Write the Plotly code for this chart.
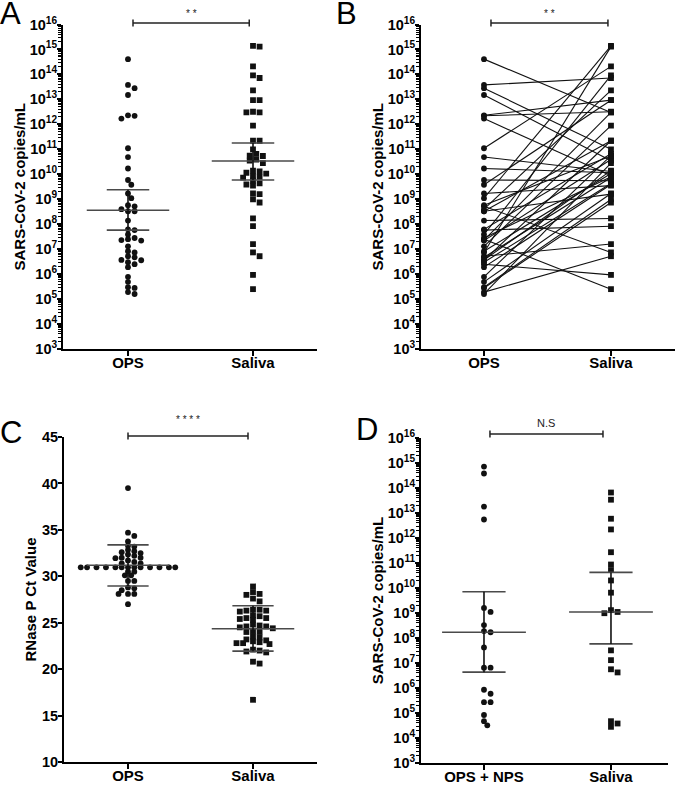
import math
import plotly.graph_objects as go

W, H = 675, 786
FONT = "Liberation Sans, Arial, sans-serif"

# ---------------- Data ----------------
# Panels A / B : SARS-CoV-2 copies/mL, OPS and saliva paired by patient
ops_copies = [4.1e14, 3.8e13, 2.8e13, 1.5e13, 2.3e12, 2.2e12, 1.7e12, 1.1e11, 4.9e10, 1.7e10,
              5.9e9, 3.8e9, 1.7e9, 1.1e9, 5.8e8, 5.2e8, 4.0e8, 3.3e8, 3.3e8, 1.4e8,
              6.2e7, 5.8e7, 3.9e7, 2.8e7, 2.5e7, 2.3e7, 2.2e7, 1.3e7, 8.3e6, 7.4e6,
              5.2e6, 4.7e6, 3.7e6, 3.6e6, 3.0e6, 2.5e6, 1.9e6, 7.8e5, 4.9e5, 3.0e5,
              2.8e5, 1.9e5, 1.6e5]
saliva_copies = [3.0e12, 7.2e13, 1.0e11, 3.5e10, 9.3e12, 3.2e12, 8.7e9, 2.1e14, 1.3e10, 1.15e10,
                 5.5e9, 9.3e12, 3.5e9, 1.4e15, 5.4e10, 7.4e6, 2.3e13, 1.6e9, 2.2e11, 1.7e8,
                 6.6e10, 8.3e7, 9.1e13, 7.9e9, 2.5e5, 3.0e12, 3.9e10, 8.9e11, 1.07e10, 1.3e15,
                 1.6e7, 7.4e9, 1.4e10, 2.2e11, 4.3e9, 9.3e5, 3.9e9, 5.6e10, 1.7e9, 9.8e8,
                 7.4e8, 5.2e6, 2.8e10]
# geometric mean with 95% CI : (centre, upper, lower)
ops_stats_A = (3.6e8, 2.4e9, 5.8e7)
saliva_stats_A = (3.4e10, 1.8e11, 5.9e9)

# Panel C : RNase P Ct values
ops_ct = [39.5, 34.7, 34.35, 33.75, 33.3, 33.2, 32.85, 32.7, 32.6, 32.5, 32.35, 32.2,
          32.0, 32.0, 31.95, 31.7, 31.55, 31.4, 31.4,
          30.97, 30.97, 30.97, 30.97, 30.97, 30.97, 30.97, 30.97, 30.97, 30.97, 30.97, 30.97, 30.97,
          30.5, 30.5, 30.1, 30.1, 29.5, 29.5, 28.8, 28.7, 28.5, 28.1, 28.1, 28.1, 27.0]
saliva_ct = [28.9, 28.0, 28.3, 28.1, 27.6, 27.3, 26.4, 26.2, 26.3, 26.4, 26.3, 25.8, 25.7,
             25.5, 25.3, 25.4, 25.5, 24.8, 24.6, 24.5, 24.4, 24.6, 24.7, 24.0, 24.0, 24.1,
             23.5, 23.4, 23.1, 22.9, 22.8, 22.7, 22.8, 23.0, 23.2, 22.0, 21.8, 21.9, 22.1,
             20.8, 20.6, 16.7]
ops_stats_C = (31.19, 33.38, 28.96)      # mean, +SD, -SD
saliva_stats_C = (24.35, 26.83, 21.94)

# Panel D : OPS + NPS vs saliva (copies/mL)
opsnps_copies = [7.2e14, 3.8e14, 1.8e13, 5.5e12, 1.6e9, 1.1e9, 3.3e8, 1.7e8, 1.9e8, 4.2e7,
                 6.5e6, 6.5e6, 8.5e5, 5.9e5, 2.7e5, 2.7e5, 8.3e4, 3.2e4, 4.7e4]
salivaD_copies = [6.6e13, 3.4e13, 5.9e12, 2.2e12, 2.7e11, 8.7e10, 5.2e10, 2.0e10, 6.5e9, 1.3e9,
                  9.8e8, 1.1e9, 3.2e7, 1.3e7, 5.6e6, 4.2e6, 4.7e4, 2.8e4, 3.8e4]
opsnps_stats = (1.7e8, 7.1e9, 4.3e6)
salivaD_stats = (1.1e9, 4.2e10, 5.8e7)

cats_AB = ["OPS", "Saliva"]
cats_D = ["OPS + NPS", "Saliva"]
log_exponents = list(range(3, 17))
log_tickvals = [10 ** k for k in log_exponents]
log_ticktext = [f"10<sup>{k}</sup>" for k in log_exponents]
log_minorvals = [m * 10 ** k for k in range(3, 16) for m in range(2, 10)]
ct_ticks = [10, 15, 20, 25, 30, 35, 40, 45]

# ---------------- Geometry (pixels) ----------------
PANELS = {
    "A": dict(x0=63, x1=317, ytop=24.5, ybot=349, xr=[-0.52, 1.512]),
    "B": dict(x0=421, x1=675, ytop=24.5, ybot=349, xr=[-0.496, 1.504]),
    "C": dict(x0=64, x1=317, ytop=437, ybot=762, xr=[-0.512, 1.512]),
    "D": dict(x0=421, x1=668, ytop=438, ybot=763, xr=[-0.496, 1.449]),
}


def xdom(p):
    return [p["x0"] / W, p["x1"] / W]


def ydom(p):
    return [1 - p["ybot"] / H, 1 - p["ytop"] / H]


def swarm(values, p, yspan, log, dx=6.6, dy=4.8):
    """Greedy beeswarm: returns x offsets (in category units)."""
    px_x = (p["x1"] - p["x0"]) / (p["xr"][1] - p["xr"][0])
    px_y = (p["ybot"] - p["ytop"]) / yspan
    ys = [(math.log10(v) if log else v) * px_y for v in values]
    order = sorted(range(len(values)), key=lambda i: -ys[i])
    step = dx / 2
    cands = [0.0]
    for j in range(1, 40):
        cands += [step * j, -step * j]
    placed = []
    offs = [0.0] * len(values)
    for i in order:
        for c in cands:
            if all(((c - qx) / dx) ** 2 + ((ys[i] - qy) / dy) ** 2 >= 1 for qx, qy in placed):
                break
        placed.append((c, ys[i]))
        offs[i] = c / px_x
    return offs


fig = go.Figure()


def add_points(xa, ya, center, values, p, yspan, log, symbol, dx=6.6, dy=4.8):
    offs = swarm(values, p, yspan, log, dx, dy)
    fig.add_trace(go.Scatter(
        x=[center + o for o in offs], y=values, mode="markers", xaxis=xa, yaxis=ya,
        marker=dict(symbol=symbol, size=5.8, color="#111111", line=dict(width=0)),
        showlegend=False, hoverinfo="skip"))


def add_stats(xa, ya, center, stats, half_mean=0.33, half_cap=0.17):
    c, up, lo = stats
    xs = [center - half_mean, center + half_mean, None,
          center - half_cap, center + half_cap, None,
          center - half_cap, center + half_cap]
    yv = [c, c, None, up, up, None, lo, lo]
    fig.add_trace(go.Scatter(x=xs, y=yv, mode="lines", xaxis=xa, yaxis=ya,
                             line=dict(color="#4a4a4a", width=1.6),
                             showlegend=False, hoverinfo="skip"))
    fig.add_trace(go.Scatter(x=[center, center], y=[lo, up], mode="lines", xaxis=xa, yaxis=ya,
                             line=dict(color="#111111", width=1.6),
                             showlegend=False, hoverinfo="skip"))


# Panel A
pA = PANELS["A"]
add_points("x", "y", 0, ops_copies, pA, 13, True, "circle")
add_points("x", "y", 1, saliva_copies, pA, 13, True, "square")
add_stats("x", "y", 0, ops_stats_A)
add_stats("x", "y", 1, saliva_stats_A)

# Panel B : paired lines
lx, ly = [], []
for o, s in zip(ops_copies, saliva_copies):
    lx += [0, 1, None]
    ly += [o, s, None]
fig.add_trace(go.Scatter(x=lx, y=ly, mode="lines", xaxis="x2", yaxis="y2",
                         line=dict(color="#111111", width=1.1), showlegend=False, hoverinfo="skip"))
fig.add_trace(go.Scatter(x=[0] * len(ops_copies), y=ops_copies, mode="markers", xaxis="x2", yaxis="y2",
                         marker=dict(symbol="circle", size=5.8, color="#111111"),
                         showlegend=False, hoverinfo="skip"))
fig.add_trace(go.Scatter(x=[1] * len(saliva_copies), y=saliva_copies, mode="markers", xaxis="x2", yaxis="y2",
                         marker=dict(symbol="square", size=5.8, color="#111111"),
                         showlegend=False, hoverinfo="skip"))

# Panel C
pC = PANELS["C"]
add_points("x3", "y3", 0, ops_ct, pC, 35, False, "circle", dx=6.3, dy=3.9)
add_points("x3", "y3", 1, saliva_ct, pC, 35, False, "square", dx=6.6, dy=4.2)
add_stats("x3", "y3", 0, ops_stats_C, half_cap=0.165)
add_stats("x3", "y3", 1, saliva_stats_C, half_cap=0.165)

# Panel D
pD = PANELS["D"]
add_points("x4", "y4", 0, opsnps_copies, pD, 13, True, "circle")
add_points("x4", "y4", 1, salivaD_copies, pD, 13, True, "square")
add_stats("x4", "y4", 0, opsnps_stats)
add_stats("x4", "y4", 1, salivaD_stats)


def xaxis(p, anchor, cats):
    return dict(domain=xdom(p), anchor=anchor, range=p["xr"], tickmode="array",
                tickvals=[0, 1], ticktext=cats, ticks="outside", ticklen=5, tickwidth=1.5,
                tickcolor="black", showline=True, linecolor="black", linewidth=2,
                showgrid=False, zeroline=False, automargin=False, ticklabelstandoff=-6,
                tickfont=dict(family=FONT, size=15, color="black", weight="bold"))


def ylog(p, anchor):
    return dict(domain=ydom(p), anchor=anchor, type="log", range=[3, 16], tickmode="array",
                tickvals=log_tickvals, ticktext=log_ticktext, ticks="outside", ticklen=4,
                tickwidth=1.5, tickcolor="black", showline=True, linecolor="black", linewidth=2,
                showgrid=False, zeroline=False, automargin=False, ticklabelstandoff=-3,
                minor=dict(ticks="outside", ticklen=3, tickwidth=1, tickcolor="black",
                           tickmode="array", tickvals=log_minorvals, showgrid=False),
                tickfont=dict(family=FONT, size=14.5, color="black", weight="bold"),
                title=dict(text="SARS-CoV-2 copies/mL", standoff=0,
                           font=dict(family=FONT, size=15, color="black", weight="bold")))


yC = dict(domain=ydom(pC), anchor="x3", range=[10, 45], tickmode="array", tickvals=ct_ticks,
          ticks="outside", ticklen=4, tickwidth=1.5, tickcolor="black", showline=True,
          linecolor="black", linewidth=2, showgrid=False, zeroline=False, automargin=False,
          ticklabelstandoff=-3,
          tickfont=dict(family=FONT, size=14.5, color="black", weight="bold"),
          title=dict(text="RNase P Ct Value", standoff=2,
                     font=dict(family=FONT, size=15, color="black", weight="bold")))

# Brackets and significance labels
shapes, annotations = [], []


def bracket(p, c0, c1, ypx, label, label_size, label_dy):
    def fx(c):
        return (p["x0"] + (c - p["xr"][0]) / (p["xr"][1] - p["xr"][0]) * (p["x1"] - p["x0"])) / W
    X0, X1 = fx(c0), fx(c1)
    yp = 1 - ypx / H
    t = 3.5 / H
    line = dict(color="#222222", width=1.5)
    shapes.append(dict(type="line", xref="paper", yref="paper", x0=X0, x1=X1, y0=yp, y1=yp, line=line))
    shapes.append(dict(type="line", xref="paper", yref="paper", x0=X0, x1=X0, y0=yp - t, y1=yp + t, line=line))
    shapes.append(dict(type="line", xref="paper", yref="paper", x0=X1, x1=X1, y0=yp - t, y1=yp + t, line=line))
    annotations.append(dict(xref="paper", yref="paper", x=(X0 + X1) / 2, y=1 - (ypx - label_dy) / H,
                            text=label, showarrow=False, xanchor="center", yanchor="middle",
                            font=dict(family=FONT, size=label_size, color="#222222")))


bracket(pA, 0.04, 0.97, 23, "* *", 10, 10)
bracket(PANELS["B"], 0.055, 0.976, 23, "* *", 10, 10)
bracket(pC, 0.0, 0.96, 436, "* * * *", 10, 17)
bracket(pD, 0.047, 0.937, 434, "N.S", 11, 11)

for letter, (lx_, ly_) in {"A": (11, 13), "B": (346, 13), "C": (11, 432), "D": (367, 430)}.items():
    annotations.append(dict(xref="paper", yref="paper", x=lx_ / W, y=1 - ly_ / H, text=letter,
                            showarrow=False, xanchor="center", yanchor="middle",
                            font=dict(family=FONT, size=31, color="black")))

fig.update_layout(
    width=W, height=H, margin=dict(l=0, r=0, t=0, b=0, autoexpand=False),
    paper_bgcolor="white", plot_bgcolor="white", showlegend=False,
    font=dict(family=FONT, color="black"),
    xaxis=xaxis(pA, "y", cats_AB), yaxis=ylog(pA, "x"),
    xaxis2=xaxis(PANELS["B"], "y2", cats_AB), yaxis2=ylog(PANELS["B"], "x2"),
    xaxis3=xaxis(pC, "y3", cats_AB), yaxis3=yC,
    xaxis4=xaxis(pD, "y4", cats_D), yaxis4=ylog(pD, "x4"),
    shapes=shapes, annotations=annotations,
)

fig.write_html("out.html", config={"displayModeBar": False},
               post_script="document.body.style.margin='0px';")
